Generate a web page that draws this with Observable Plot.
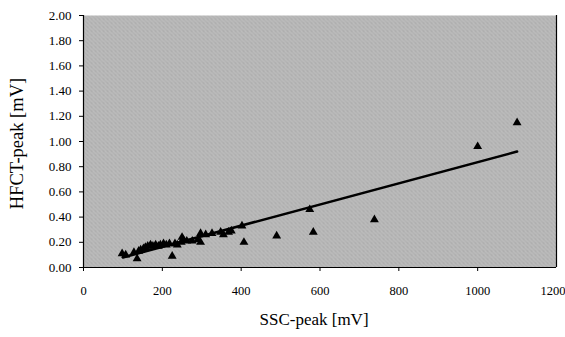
<!DOCTYPE html>
<html>
<head>
<meta charset="utf-8">
<script src="https://cdn.jsdelivr.net/npm/d3@7"></script>
<script src="https://cdn.jsdelivr.net/npm/@observablehq/plot@0.6"></script>
<style>
  html, body { margin: 0; padding: 0; background: #fff; }
  #chart { width: 565px; height: 337px; }
  text { font-family: "Liberation Serif", "DejaVu Serif", serif; }
</style>
</head>
<body>
<div id="chart"></div>
<script>
const ssc = [98, 107, 128, 136, 140, 145, 152, 157, 163, 170, 176, 183, 190, 195, 203, 210, 218, 225, 232, 238, 248, 250, 253, 262, 276, 290, 297, 297, 310, 326, 348, 355, 368, 375, 402, 407, 490, 574, 583, 738, 1000, 1100];
const hfct = [0.11, 0.10, 0.12, 0.07, 0.13, 0.14, 0.15, 0.16, 0.17, 0.18, 0.17, 0.18, 0.17, 0.18, 0.19, 0.18, 0.19, 0.09, 0.19, 0.18, 0.20, 0.24, 0.22, 0.21, 0.21, 0.22, 0.20, 0.27, 0.26, 0.27, 0.28, 0.26, 0.28, 0.29, 0.33, 0.20, 0.25, 0.46, 0.28, 0.38, 0.96, 1.15];
const fitX = [100, 1100];
const fitY = [0.08, 0.92];
const xTicks = [0, 200, 400, 600, 800, 1000, 1200];
const yTicks = [0, 0.2, 0.4, 0.6, 0.8, 1.0, 1.2, 1.4, 1.6, 1.8, 2.0];
const xTitle = "SSC-peak [mV]";
const yTitle = "HFCT-peak [mV]";

const points = ssc.map((x, i) => ({x, y: hfct[i]}));
const fit = fitX.map((x, i) => ({x, y: fitY[i]}));
const xInner = xTicks.slice(0, -1);
const xLast = xTicks.slice(-1);

const svg = Plot.plot({
  width: 565,
  height: 337,
  marginLeft: 83,
  marginRight: 9,
  marginTop: 15,
  marginBottom: 70,
  style: {fontFamily: "Liberation Serif, serif", fontSize: "12px", background: "#fff", color: "#000"},
  x: {domain: [0, 1200], label: null},
  y: {domain: [0, 2], label: null},
  marks: [
    Plot.frame({fill: "url(#dither)", stroke: "none"}),
    Plot.ruleX([0], {stroke: "#000", strokeWidth: 1.2}),
    Plot.ruleX([1200], {stroke: "#000", strokeWidth: 1.2}),
    Plot.ruleY([0], {stroke: "#000", strokeWidth: 1.2}),
    Plot.axisX({ticks: xInner, tickFormat: d3.format("d"), tickSize: 4, tickPadding: 15, label: null, fontSize: 12.5}),
    Plot.axisX({ticks: xLast, tickFormat: d3.format("d"), tickSize: 4, tickPadding: 15, label: null, fontSize: 12.5, textAnchor: "end", dx: 9}),
    Plot.axisY({ticks: yTicks, tickFormat: d3.format(".2f"), tickSize: 4, tickPadding: 8, label: null, fontSize: 13}),
    Plot.line(fit, {x: "x", y: "y", stroke: "#000", strokeWidth: 2.6}),
    Plot.dot(points, {x: "x", y: "y", symbol: "triangle", r: 3.3, fill: "#000", stroke: "none"}),
    Plot.text([xTitle], {frameAnchor: "bottom", textAnchor: "middle", dx: -6, dy: 57, fontSize: 17, fill: "#000"}),
    Plot.text([yTitle], {frameAnchor: "left", textAnchor: "middle", dx: -66, dy: 2, rotate: -90, fontSize: 18.5, fill: "#000"})
  ]
});

const ns = "http://www.w3.org/2000/svg";
const defs = document.createElementNS(ns, "defs");
const pat = document.createElementNS(ns, "pattern");
pat.setAttribute("id", "dither");
pat.setAttribute("width", "4");
pat.setAttribute("height", "4");
pat.setAttribute("patternUnits", "userSpaceOnUse");
const cells = [
  ["#989898", "#d2d2d2", "#a4a4a4", "#dcdcdc"],
  ["#d4d4d4", "#909090", "#cccccc", "#9c9c9c"],
  ["#a8a8a8", "#d8d8d8", "#949494", "#c8c8c8"],
  ["#cecece", "#a0a0a0", "#d2d2d2", "#8c8c8c"]
];
cells.forEach((row, j) => row.forEach((c, i) => {
  const r = document.createElementNS(ns, "rect");
  r.setAttribute("x", i); r.setAttribute("y", j);
  r.setAttribute("width", 1); r.setAttribute("height", 1);
  r.setAttribute("fill", c);
  pat.appendChild(r);
}));
defs.appendChild(pat);
svg.insertBefore(defs, svg.firstChild);
document.getElementById("chart").appendChild(svg);
</script>
</body>
</html>
